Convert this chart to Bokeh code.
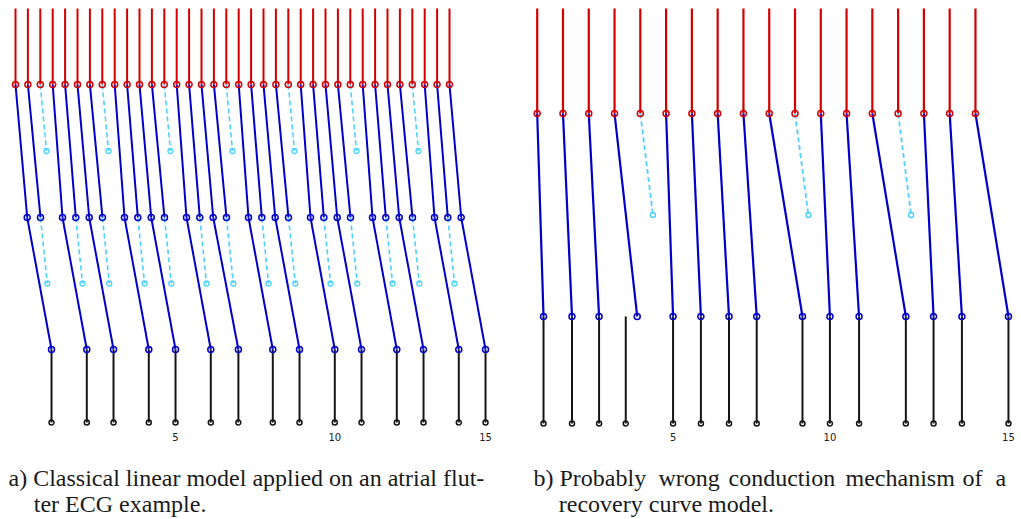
from bokeh.plotting import figure
from bokeh.models import Range1d, LinearAxis, FixedTicker, Label, ColumnDataSource
from bokeh.layouts import row
from bokeh.embed import file_html
from bokeh.resources import INLINE

# ---------------- Panel a: classical linear model (times in ms) ----------------
a_atrial = [0, 200, 400, 600, 800, 1000, 1200, 1400, 1600, 1800, 2000, 2200,
            2400, 2600, 2800, 3000, 3200, 3400, 3600, 3800, 4000, 4200, 4400, 4600,
            4800, 5000, 5200, 5400, 5600, 5800, 6000, 6200, 6400, 6600, 6800, 7000]
# arrival at the 2nd level for each atrial wave (None = blocked at the 1st level)
a_level2 = [189, 403, None, 758, 973, 1189, 1403, None, 1758, 1973, 2189, 2403,
            None, 2758, 2973, 3189, 3403, None, 3758, 3973, 4189, 4403, None, 4758,
            4973, 5189, 5403, None, 5758, 5973, 6189, 6403, None, 6758, 6973, 7189]
# end of the blocked (dashed) wave fronts at the 1st level
a_block1 = [500, 1500, 2500, 3500, 4500, 5500, 6500]
# arrival at the 3rd level for each 2nd-level wave (None = blocked at the 2nd level)
a_level3 = [581, None, 1150, None, 1581, None, 2150, None, 2581, None, 3150, None,
            3595, None, 4150, None, 4581, None, 5150, None, 5581, None, 6150, None,
            6581, None, 7150, None, 7581]
# end of the blocked (dashed) wave fronts at the 2nd level
a_block2 = [513, 1081, 1513, 2081, 2513, 3081, 3513, 4081, 4513, 5081, 5513, 6081,
            6513, 7081]

# ---------------- Panel b: recovery curve model (times in ms) ----------------
b_atrial = [0, 200, 400, 600, 800, 1000, 1200, 1400, 1600, 1800, 2000, 2200,
            2400, 2600, 2800, 3000, 3200, 3400]
b_vnode = [49, 270, 480, 776, None, 1054, 1270, 1488, 1703, 2058, None, 2271,
           2497, 2860, None, 3075, 3295, 3656]
b_block = [898, 2104, 2901]
b_ventricle = [49, 270, 480, 687, 1054, 1270, 1488, 1703, 2058, 2271, 2497, 2860,
               3075, 3295, 3656]

tick_beats = [5, 10, 15]

RED = "#d40000"
BLUE = "#0000c8"
CYAN = "#50d0ff"
BLACK = "#151515"
TXT = "#1a1a1a"


def make_fig(width, xr, yr):
    p = figure(width=width, height=519, x_range=Range1d(*xr), y_range=Range1d(*yr),
               output_backend="svg", toolbar_location=None,
               x_axis_location=None, y_axis_location=None,
               min_border_left=0, min_border_right=0, min_border_top=0,
               min_border_bottom=0)
    p.outline_line_color = None
    p.xgrid.visible = False
    p.ygrid.visible = False
    p.background_fill_color = "white"
    p.border_fill_color = "white"
    return p


def add_axis(p, vtimes, at):
    ticks = [vtimes[b - 1] for b in tick_beats]
    ax = LinearAxis(ticker=FixedTicker(ticks=ticks, minor_ticks=[]),
                    major_label_overrides={vtimes[b - 1]: str(b) for b in tick_beats},
                    fixed_location=at)
    ax.axis_line_color = None
    ax.major_tick_line_color = None
    ax.minor_tick_line_color = None
    ax.major_tick_out = 0
    ax.major_tick_in = 0
    ax.major_label_standoff = 4
    ax.major_label_text_font = "DejaVu Sans"
    ax.major_label_text_font_size = "10px"
    ax.major_label_text_color = "#222222"
    p.add_layout(ax, "below")


def seg(p, x0, y0, x1, y1, color, width=2.0, dash="solid"):
    src = ColumnDataSource(dict(x0=x0, y0=y0, x1=x1, y1=y1))
    p.segment("x0", "y0", "x1", "y1", source=src, line_color=color,
              line_width=width, line_dash=dash)


def dots(p, x, y, color, size=6, width=1.5):
    p.scatter(x, y, marker="circle", size=size, line_color=color,
              line_width=width, fill_color=None)


def caption(p, x, y, text):
    p.add_layout(Label(x=x, y=y, x_units="screen", y_units="screen", text=text,
                       text_font="Liberation Serif", text_font_size="24px",
                       text_baseline="alphabetic", text_color=TXT))


LINE1, LINE2 = 519 - 477.0, 519 - 503.5

# ======================= Panel a =======================
A_TOP, A_A, A_L2, A_L3, A_V = 414, 338, 205, 73, 0
pa = make_fig(510, (-15 / 0.062, 495 / 0.062), (-97, 422))

seg(pa, a_atrial, [A_TOP] * len(a_atrial), a_atrial, [A_A] * len(a_atrial), RED, 2.0)
c1 = [(a, l) for a, l in zip(a_atrial, a_level2) if l is not None]
seg(pa, [a for a, _ in c1], [A_A] * len(c1), [l for _, l in c1], [A_L2] * len(c1), BLUE, 2.0)
b1 = [a for a, l in zip(a_atrial, a_level2) if l is None]
half1 = (A_A + A_L2) / 2
seg(pa, b1, [A_A] * len(b1), a_block1, [half1] * len(b1), CYAN, 1.6, "5 3")
l2 = [l for l in a_level2 if l is not None]
c2 = [(a, b) for a, b in zip(l2, a_level3) if b is not None]
seg(pa, [a for a, _ in c2], [A_L2] * len(c2), [b for _, b in c2], [A_L3] * len(c2), BLUE, 2.0)
b2 = [a for a, b in zip(l2, a_level3) if b is None]
half2 = (A_L2 + A_L3) / 2
seg(pa, b2, [A_L2] * len(b2), a_block2, [half2] * len(b2), CYAN, 1.6, "5 3")
a_vent = [b for b in a_level3 if b is not None]
seg(pa, a_vent, [A_L3] * len(a_vent), a_vent, [A_V] * len(a_vent), BLACK, 2.0)

dots(pa, a_atrial, [A_A] * len(a_atrial), RED)
dots(pa, a_block1, [half1] * len(a_block1), CYAN, 5, 1.3)
dots(pa, l2, [A_L2] * len(l2), BLUE)
dots(pa, a_block2, [half2] * len(a_block2), CYAN, 5, 1.3)
dots(pa, a_vent, [A_L3] * len(a_vent), BLUE)
dots(pa, a_vent, [A_V] * len(a_vent), BLACK, 5, 1.5)
add_axis(pa, a_vent, -6)

caption(pa, 8, LINE1, "a) Classical linear model applied on an atrial flut-")
caption(pa, 33.3, LINE2, "ter ECG example.")

# ======================= Panel b =======================
B_TOP, B_A, B_VN, B_V = 415, 310, 107, 0
K = 25.78 / 200.0
pb = make_fig(511, (-26.7 / K, (511 - 26.7) / K), (-96, 423))

seg(pb, b_atrial, [B_TOP] * len(b_atrial), b_atrial, [B_A] * len(b_atrial), RED, 2.2)
cb = [(a, v) for a, v in zip(b_atrial, b_vnode) if v is not None]
seg(pb, [a for a, _ in cb], [B_A] * len(cb), [v for _, v in cb], [B_VN] * len(cb), BLUE, 2.2)
bb = [a for a, v in zip(b_atrial, b_vnode) if v is None]
halfb = (B_A + B_VN) / 2
seg(pb, bb, [B_A] * len(bb), b_block, [halfb] * len(bb), CYAN, 1.8, "5 3")
seg(pb, b_ventricle, [B_VN] * len(b_ventricle), b_ventricle, [B_V] * len(b_ventricle), BLACK, 2.0)

dots(pb, b_atrial, [B_A] * len(b_atrial), RED)
dots(pb, b_block, [halfb] * len(b_block), CYAN, 5, 1.4)
bv = [v for v in b_vnode if v is not None]
dots(pb, bv, [B_VN] * len(bv), BLUE)
dots(pb, b_ventricle, [B_V] * len(b_ventricle), BLACK, 5, 1.5)
add_axis(pb, b_ventricle, -5)

words_b = [(23, "b)"), (49, "Probably"), (148, "wrong"), (218, "conduction"),
           (335, "mechanism"), (452, "of"), (485, "a")]
for x, w in words_b:
    caption(pb, x, LINE1, w)
caption(pb, 48.3, LINE2, "recovery curve model.")

layout = row(pa, pb)
open("out.html", "w").write(file_html(layout, INLINE))
